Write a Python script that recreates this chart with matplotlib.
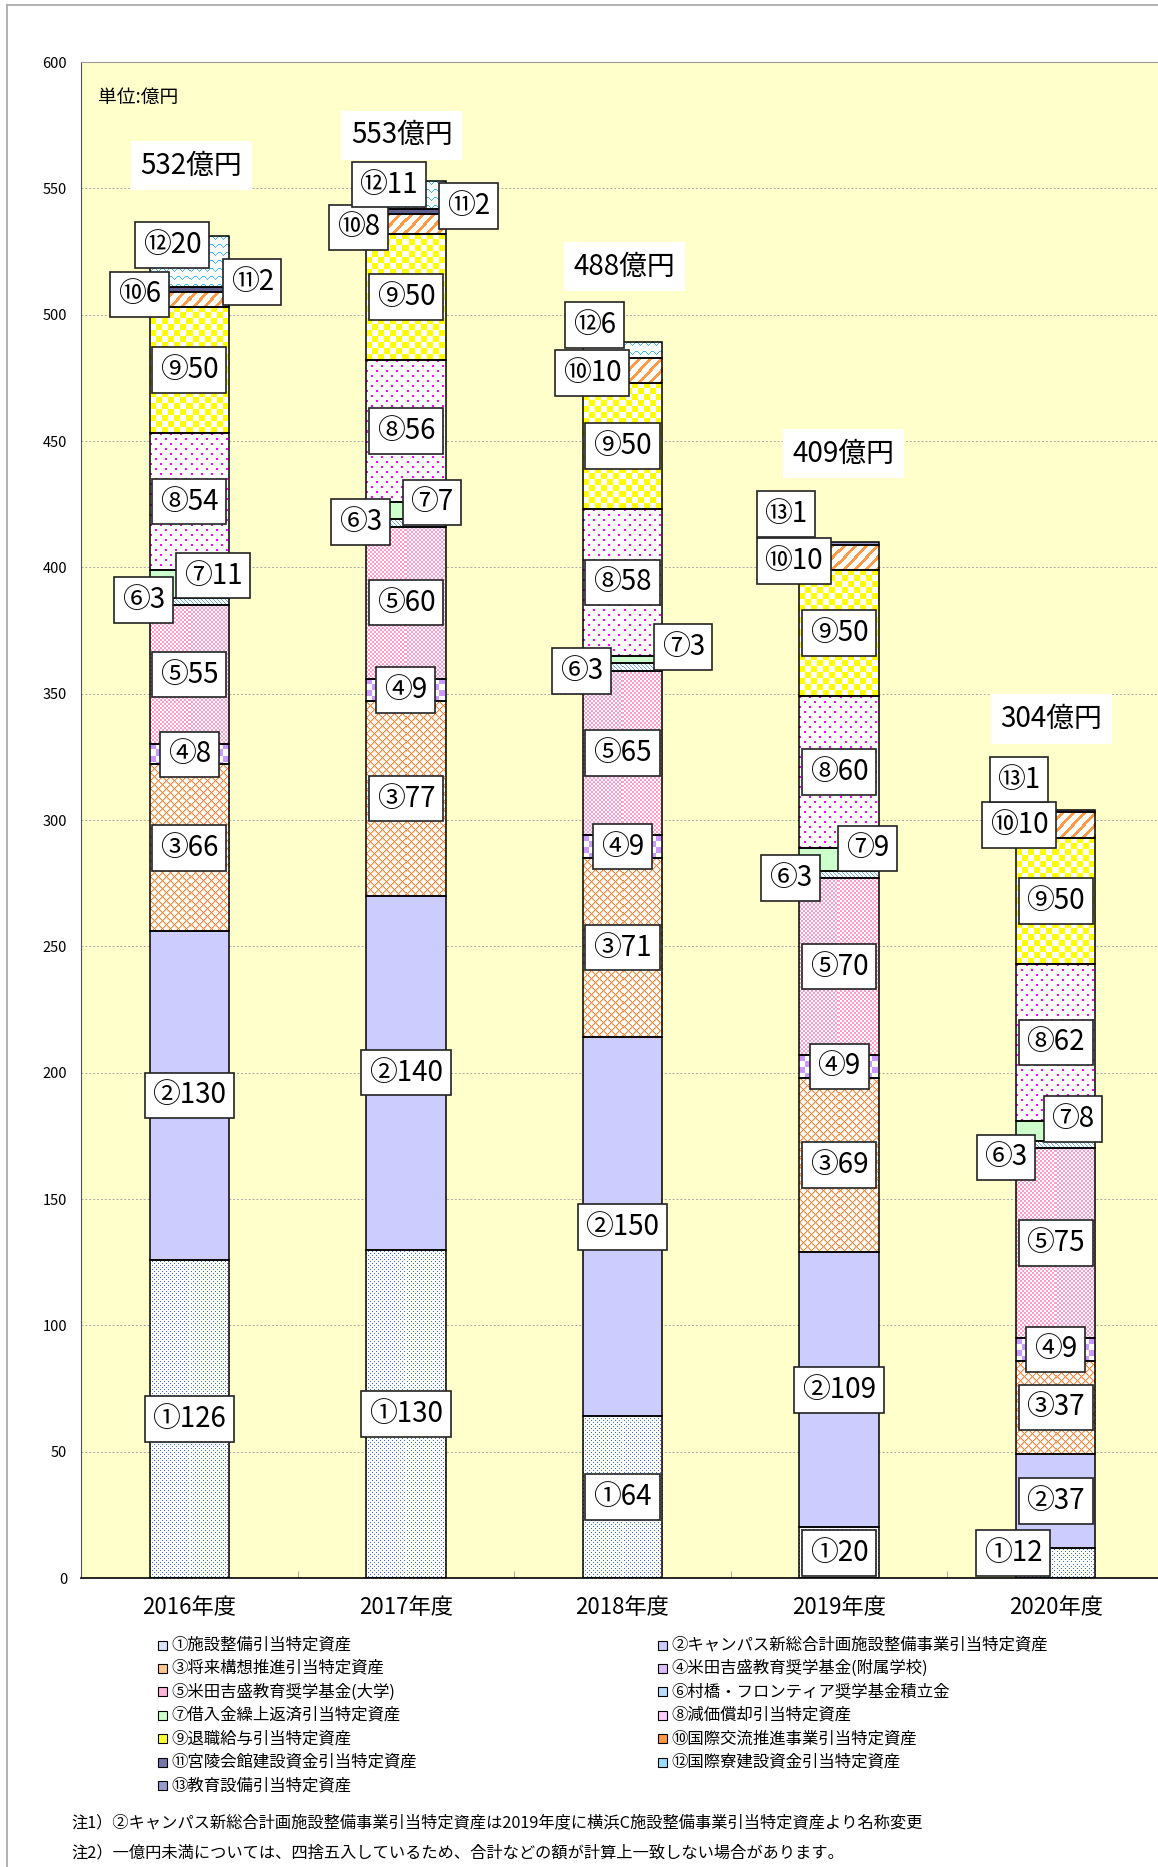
import numpy as np
import matplotlib
matplotlib.use('Agg')
import matplotlib.pyplot as plt
from matplotlib.patches import Rectangle
from matplotlib.lines import Line2D

plt.rcParams['font.family'] = ['Noto Sans CJK JP', 'DejaVu Sans']

W, H, DPI = 1158, 1867, 100

years = ['2016年度', '2017年度', '2018年度', '2019年度', '2020年度']
circled = ['①', '②', '③', '④', '⑤', '⑥', '⑦', '⑧', '⑨', '⑩', '⑪', '⑫', '⑬']
names = ['施設整備引当特定資産', 'キャンパス新総合計画施設整備事業引当特定資産',
         '将来構想推進引当特定資産', '米田吉盛教育奨学基金(附属学校)',
         '米田吉盛教育奨学基金(大学)', '村橋・フロンティア奨学基金積立金',
         '借入金繰上返済引当特定資産', '減価償却引当特定資産', '退職給与引当特定資産',
         '国際交流推進事業引当特定資産', '宮陵会館建設資金引当特定資産',
         '国際寮建設資金引当特定資産', '教育設備引当特定資産']

# 億円, one value per year
s01 = [126, 130, 64, 20, 12]
s02 = [130, 140, 150, 109, 37]
s03 = [66, 77, 71, 69, 37]
s04 = [8, 9, 9, 9, 9]
s05 = [55, 60, 65, 70, 75]
s06 = [3, 3, 3, 3, 3]
s07 = [11, 7, 3, 9, 8]
s08 = [54, 56, 58, 60, 62]
s09 = [50, 50, 50, 50, 50]
s10 = [6, 8, 10, 10, 10]
s11 = [2, 2, 0, 0, 0]
s12 = [20, 11, 6, 0, 0]
s13 = [0, 0, 0, 1, 1]
totals = [532, 553, 488, 409, 304]
series = [s01, s02, s03, s04, s05, s06, s07, s08, s09, s10, s11, s12, s13]

# fill style per series: (texture kind, main colour)
styles = [('dots', '#3366EE'), ('solid', '#CCCCFF'), ('lattice', '#FF8030'),
          ('checker6', '#CC99FF'), ('checker2', '#FF99CC'), ('diag', '#66AAEE'),
          ('solid', '#CCFFCC'), ('sparse', '#FF00FF'), ('checker6', '#FFFF00'),
          ('stripes', '#FF9944'), ('purple', '#BBBBEE'), ('zigzag', '#33BBFF'),
          ('solid', '#9999CC')]
legend_colors = ['#D8E4FF', '#CCCCFF', '#FFC890', '#DDBBFF', '#FFB3D9', '#BBDDFF',
                 '#CCFFCC', '#FFCCFF', '#FFFF33', '#FF9944', '#7777AA', '#99DDFF',
                 '#9999CC']

# label offsets (dx in categories, dy in 億円) for the small segments
label_off = {
    (0, 5): (-0.21, 0.5), (0, 6): (0.11, 3.2), (0, 9): (-0.23, 2), (0, 10): (0.29, 3), (0, 11): (-0.08, 6.5),
    (1, 5): (-0.21, 0.5), (1, 6): (0.12, 3.2), (1, 9): (-0.22, -1.5), (1, 10): (0.29, 2), (1, 11): (-0.08, 4),
    (2, 5): (-0.19, -1.5), (2, 6): (0.28, 5), (2, 9): (-0.14, -1), (2, 11): (-0.13, 10),
    (3, 5): (-0.225, -1.5), (3, 6): (0.13, 4.3), (3, 9): (-0.21, -1.6), (3, 12): (-0.245, 11.5),
    (4, 0): (-0.195, 4), (4, 5): (-0.23, -5), (4, 6): (0.08, 4.7), (4, 9): (-0.17, 0), (4, 12): (-0.17, 12.5),
}
total_off = [(0.01, 28), (-0.02, 18), (0.01, 30), (0.02, 35), (-0.02, 36)]


def rgb(h):
    h = h.lstrip('#')
    return np.array([int(h[i:i + 2], 16) / 255 for i in (0, 2, 4)])


def texture(kind, col, ny, nx):
    r, c = np.mgrid[0:ny, 0:nx]
    img = np.empty((ny, nx, 3))
    img[:] = rgb('#FFFFFF')
    if kind == 'dots':
        m = ((r % 4 == 0) & (c % 4 == 0)) | ((r % 4 == 2) & (c % 4 == 2))
    elif kind == 'lattice':
        soft = ((r + c) % 8 == 1) | ((r - c) % 8 == 1)
        img[soft] = rgb('#FFC8A0')
        m = ((r + c) % 8 == 0) | ((r - c) % 8 == 0)
    elif kind == 'checker6':
        m = (r // 6 + c // 6) % 2 == 0
    elif kind == 'checker2':
        m = (r // 2 + c // 2) % 2 == 0
    elif kind == 'diag':
        m = (c - r) % 4 == 0
    elif kind == 'sparse':
        m = ((r % 10 < 2) & (c % 10 < 2)) | (((r + 5) % 10 < 2) & ((c + 5) % 10 < 2))
    elif kind == 'stripes':
        m = (r + c) % 11 < 4
    elif kind == 'purple':
        img[:] = rgb('#5F5F8F')
        m = (r % 3 == 1) & (c % 3 == 1)
    else:  # zigzag
        wave = np.abs((c % 8) - 4) * 3 // 4
        m = (r - wave) % 8 == 0
    img[m] = rgb(col)
    return img


fig = plt.figure(figsize=(W / DPI, H / DPI), dpi=DPI)
ax = fig.add_axes([81 / W, (H - 1578) / H, (1164 - 81) / W, (1578 - 62) / H])
ax.set_facecolor('#FFFFCC')
ax.set_xlim(-0.5, 4.5)
ax.set_ylim(0, 600)

bw = 0.366
for i in range(len(years)):
    cum = 0
    for s, vals in enumerate(series):
        v = vals[i]
        if v <= 0:
            continue
        kind, col = styles[s]
        x0, x1 = i - bw / 2, i + bw / 2
        if kind == 'solid':
            ax.bar(i, v, bw, bottom=cum, color=col, zorder=2)
        else:
            p0 = ax.transData.transform((x0, cum))
            p1 = ax.transData.transform((x1, cum + v))
            nx = max(int(round(abs(p1[0] - p0[0]))), 1)
            ny = max(int(round(abs(p1[1] - p0[1]))), 1)
            ax.imshow(texture(kind, col, ny, nx), extent=(x0, x1, cum, cum + v),
                      origin='upper', interpolation='nearest', aspect='auto', zorder=2)
        ax.bar(i, v, bw, bottom=cum, fill=False, edgecolor='black', lw=1.1, zorder=3)
        dx, dy = label_off.get((i, s), (0, 0))
        ax.text(i + dx, cum + v / 2 + dy, f'{circled[s]}{v}', ha='center', va='center',
                fontsize=20, zorder=6,
                bbox=dict(boxstyle='square,pad=0.28', fc='white', ec='#222222', lw=1.2))
        cum += v
    tdx, tdy = total_off[i]
    ax.text(i + tdx, cum + tdy, f'{totals[i]}億円', ha='center', va='center', fontsize=20,
            zorder=6, bbox=dict(boxstyle='square,pad=0.35', fc='white', ec='none'))

ax.set_xlim(-0.5, 4.5)
ax.set_ylim(0, 600)
ax.set_aspect('auto')

ax.set_yticks(range(0, 601, 50))
ax.yaxis.grid(True, ls=(0, (2, 2)), color='#A8A8A8', lw=0.7)
ax.set_axisbelow(True)
ax.tick_params(axis='y', length=0, pad=10, labelsize=10.5)
ax.set_xticks(range(len(years)), years)
ax.tick_params(axis='x', length=0, pad=13, labelsize=16)
ax.set_xticks([0.5, 1.5, 2.5, 3.5], minor=True)
ax.tick_params(axis='x', which='minor', direction='in', length=5, color='#999999')
ax.spines['right'].set_visible(False)
ax.spines['top'].set_color('#999999')
ax.spines['left'].set_color('#555555')
ax.spines['bottom'].set_color('black')
ax.spines['bottom'].set_linewidth(1.2)

fig.text(98 / W, 1 - 97 / H, '単位:億円', fontsize=13.5, va='center')

# outer chart frame
fig.add_artist(Line2D([7 / W, 7 / W], [0, 1 - 5 / H], color='#A6A6A6', lw=1.2,
                      transform=fig.transFigure))
fig.add_artist(Line2D([7 / W, 1], [1 - 5 / H, 1 - 5 / H], color='#A6A6A6', lw=1.2,
                      transform=fig.transFigure))

# legend, two columns
for k in range(len(names)):
    col, row = k % 2, k // 2
    mx = 158 if col == 0 else 658
    yc = 1645 + 23.45 * row
    fig.add_artist(Rectangle((mx / W, 1 - (yc + 4.5) / H), 9 / W, 9 / H,
                             transform=fig.transFigure, fc=legend_colors[k],
                             ec='black', lw=0.8))
    fig.text((mx + 13) / W, 1 - yc / H, f'{circled[k]}{names[k]}', fontsize=11.8, va='center')

fig.text(71 / W, 1 - 1823 / H,
         '注1）②キャンパス新総合計画施設整備事業引当特定資産は2019年度に横浜C施設整備事業引当特定資産より名称変更',
         fontsize=11.7, va='center')
fig.text(71 / W, 1 - 1853 / H,
         '注2）一億円未満については、四捨五入しているため、合計などの額が計算上一致しない場合があります。',
         fontsize=11.7, va='center')

fig.savefig('out.png', dpi=DPI)
